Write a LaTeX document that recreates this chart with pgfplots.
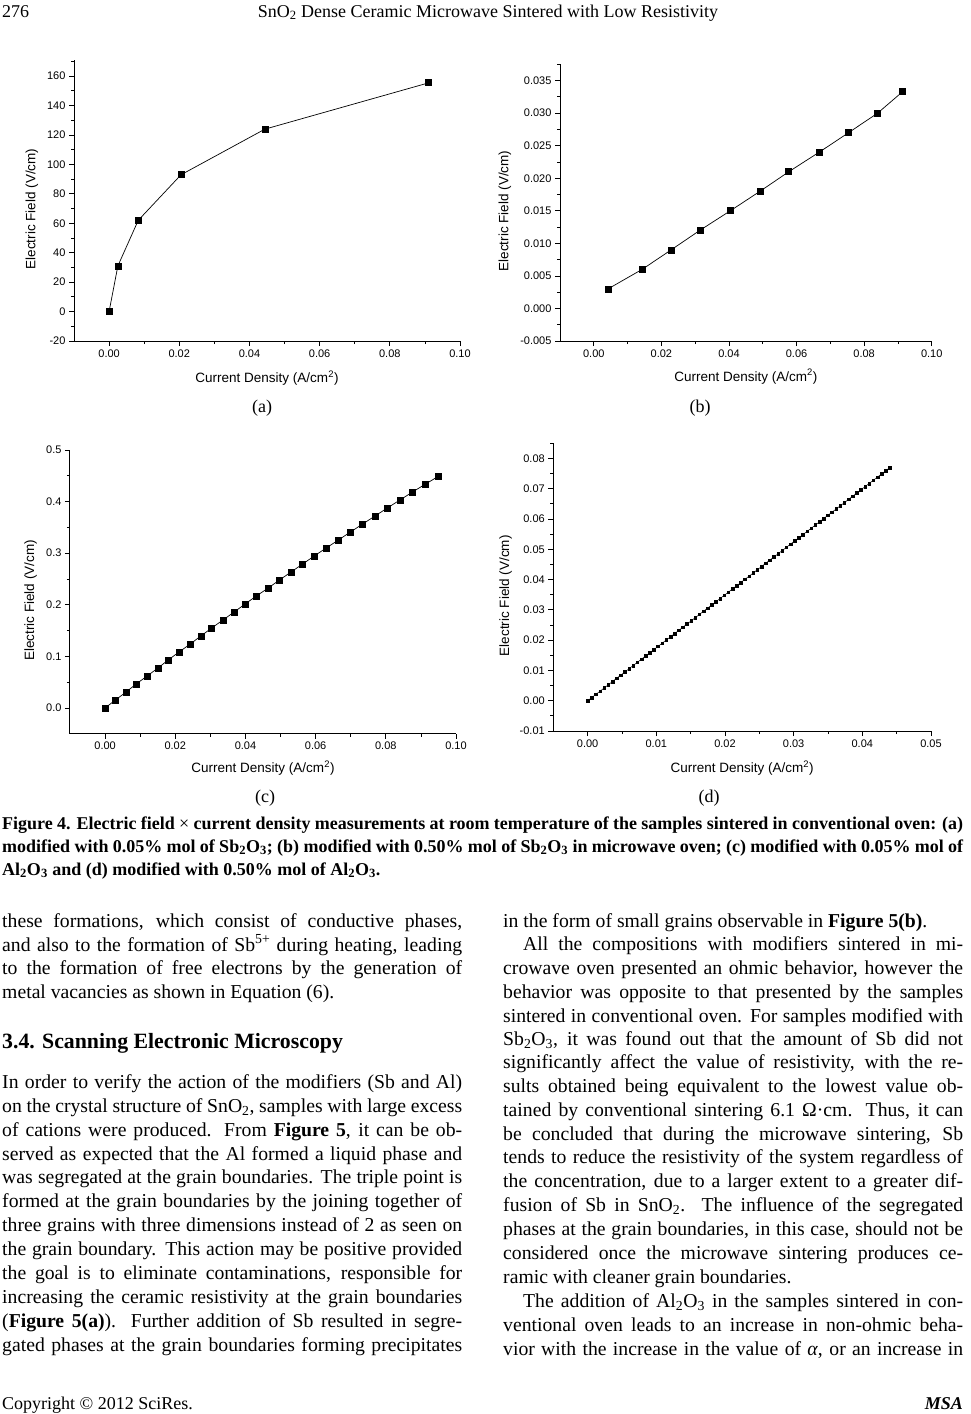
\documentclass[border=0pt]{standalone}
\usepackage{fontspec}
\setmainfont{Liberation Serif}
\newfontfamily\arial{Liberation Sans}
\usepackage{pgfplots}
\pgfplotsset{compat=1.18}
\pgfplotsset{pg/.style={
  scale only axis, anchor=south west,
  axis lines=left, axis line style={line width=1pt,-},
  tick style={black, line width=0.8pt}, tick align=outside,
  major tick length=5pt, minor tick length=3pt,
  scaled x ticks=false, scaled y ticks=false,
  ticklabel style={font=\arial\fontsize{11}{13}\selectfont},
  label style={font=\arial\fontsize{13.5}{16}\selectfont},
  /pgf/number format/assume math mode=true,
  xlabel={Current Density (A/cm\textsuperscript{2})},
  ylabel={Electric Field (V/cm)},
  xticklabel style={/pgf/number format/.cd, fixed, fixed zerofill, precision=2},
}}
\tikzset{body/.style={anchor=base west, inner sep=0pt, font=\fontsize{19.7}{23.8}\selectfont},
 capt/.style={anchor=base west, inner sep=0pt, font=\bfseries\fontsize{18}{23}\selectfont},
 ser/.style={black, line width=0.7pt, mark=square*, mark size=3pt, mark options={solid, fill=black}}}
\newcommand{\JL}[3]{\node[body] at (#1pt,-#2pt) {\makebox[460pt][s]{#3}};}
\newcommand{\JI}[3]{\node[body] at (#1pt,-#2pt) {\makebox[440pt][s]{#3}};}
\newcommand{\NL}[3]{\node[body] at (#1pt,-#2pt) {#3};}
\begin{document}
\begin{tikzpicture}
\path[use as bounding box] (0pt,0pt) rectangle (970pt,-1414pt);
% header
\node[anchor=base west, inner sep=0pt, font=\fontsize{18}{22}\selectfont] at (2pt,-17pt) {276};
\node[anchor=base, inner sep=0pt, font=\fontsize{18}{22}\selectfont] at (488pt,-17pt) {SnO\textsubscript{2} Dense Ceramic Microwave Sintered with Low Resistivity};

% (a)
\begin{axis}[pg, at={(74pt,-341pt)}, width=386pt, height=281pt,
  xmin=-0.01, xmax=0.1, ymin=-20, ymax=171,
  xtick={0,0.02,0.04,0.06,0.08,0.1}, minor xtick={0.01,0.03,0.05,0.07,0.09},
  ytick={-20,0,20,40,60,80,100,120,140,160}, minor ytick={-10,10,30,50,70,90,110,130,150,170},
  xlabel style={at={(axis description cs:0.5,-0.132)}, anchor=center},
  ylabel style={at={(axis description cs:-0.109,0.47)}, anchor=center}]
\addplot[ser] coordinates {(0,0) (0.0025,31) (0.0083,62) (0.0205,93) (0.0444,124) (0.0911,155.5)};
\end{axis}

% (b)
\begin{axis}[pg, at={(560pt,-341pt)}, width=371.7pt, height=276.7pt,
  xmin=-0.01, xmax=0.1, ymin=-0.005, ymax=0.0375,
  xtick={0,0.02,0.04,0.06,0.08,0.1}, minor xtick={0.01,0.03,0.05,0.07,0.09},
  ytick={-0.005,0,0.005,0.01,0.015,0.02,0.025,0.03,0.035},
  minor ytick={-0.0025,0.0025,0.0075,0.0125,0.0175,0.0225,0.0275,0.0325,0.0375},
  yticklabel style={/pgf/number format/.cd, fixed, fixed zerofill, precision=3},
  xlabel style={at={(axis description cs:0.5,-0.129)}, anchor=center},
  ylabel style={at={(axis description cs:-0.148,0.47)}, anchor=center}]
\addplot[ser] coordinates {(0.0042,0.003) (0.0143,0.006) (0.0229,0.009) (0.0314,0.012) (0.0404,0.015) (0.0492,0.018) (0.0577,0.021) (0.0667,0.024) (0.0754,0.027) (0.0840,0.030) (0.0914,0.0333)};
\end{axis}
\node[anchor=base, inner sep=0pt, font=\fontsize{18}{22}\selectfont] at (262pt,-412pt) {(a)};
\node[anchor=base, inner sep=0pt, font=\fontsize{18}{22}\selectfont] at (700pt,-412pt) {(b)};

% (c)
\begin{axis}[pg, at={(70pt,-733.7pt)}, width=386pt, height=283.7pt,
  xmin=-0.01, xmax=0.1, ymin=-0.05, ymax=0.5,
  xtick={0,0.02,0.04,0.06,0.08,0.1}, minor xtick={0.01,0.03,0.05,0.07,0.09},
  ytick={0,0.1,0.2,0.3,0.4,0.5}, minor ytick={0.05,0.15,0.25,0.35,0.45},
  yticklabel style={/pgf/number format/.cd, fixed, fixed zerofill, precision=1},
  xlabel style={at={(axis description cs:0.5,-0.122)}, anchor=center},
  ylabel style={at={(axis description cs:-0.102,0.47)}, anchor=center}]
\addplot[ser] coordinates {(0,0) (0.0030,0.0155) (0.0060,0.031) (0.0089,0.0465) (0.0120,0.062) (0.0151,0.0775) (0.0180,0.093) (0.0211,0.1085) (0.0243,0.124) (0.0273,0.1395) (0.0304,0.155) (0.0336,0.1705) (0.0368,0.186) (0.0399,0.2015) (0.0431,0.217) (0.0465,0.2325) (0.0497,0.248) (0.0530,0.2635) (0.0563,0.279) (0.0596,0.2945) (0.0630,0.31) (0.0665,0.3255) (0.0699,0.341) (0.0734,0.3565) (0.0769,0.372) (0.0804,0.3875) (0.0840,0.403) (0.0876,0.4185) (0.0913,0.434) (0.0951,0.4495)};
\end{axis}

% (d)
\begin{axis}[pg, at={(553.3pt,-731pt)}, width=377.7pt, height=287.7pt,
  xmin=-0.005, xmax=0.05, ymin=-0.01, ymax=0.085,
  xtick={0,0.01,0.02,0.03,0.04,0.05}, minor xtick={0.005,0.015,0.025,0.035,0.045},
  ytick={-0.01,0,0.01,0.02,0.03,0.04,0.05,0.06,0.07,0.08},
  minor ytick={-0.005,0.005,0.015,0.025,0.035,0.045,0.055,0.065,0.075,0.085},
  yticklabel style={/pgf/number format/.cd, fixed, fixed zerofill, precision=2},
  xlabel style={at={(axis description cs:0.5,-0.13)}, anchor=center},
  ylabel style={at={(axis description cs:-0.126,0.47)}, anchor=center}]
\addplot[ser, mark size=1.3pt, line width=0.5pt] coordinates {(0,0) (0.0006,0.00106) (0.00121,0.00211) (0.00181,0.00317) (0.00241,0.00422) (0.00302,0.00528) (0.00362,0.00633) (0.00422,0.00739) (0.00482,0.00844) (0.00543,0.0095) (0.00603,0.01055) (0.00663,0.01161) (0.00724,0.01266) (0.00784,0.01372) (0.00844,0.01477) (0.00905,0.01583) (0.00965,0.01688) (0.01025,0.01794) (0.01085,0.01899) (0.01146,0.02005) (0.01206,0.0211) (0.01266,0.02216) (0.01327,0.02321) (0.01387,0.02427) (0.01447,0.02532) (0.01508,0.02638) (0.01568,0.02743) (0.01628,0.02849) (0.01688,0.02954) (0.01749,0.0306) (0.01809,0.03165) (0.01869,0.03271) (0.0193,0.03376) (0.0199,0.03482) (0.0205,0.03587) (0.02111,0.03693) (0.02171,0.03798) (0.02231,0.03904) (0.02291,0.04009) (0.02352,0.04115) (0.02412,0.0422) (0.02472,0.04326) (0.02533,0.04431) (0.02593,0.04537) (0.02653,0.04642) (0.02714,0.04748) (0.02774,0.04853) (0.02834,0.04959) (0.02894,0.05064) (0.02955,0.0517) (0.03015,0.05275) (0.03075,0.05381) (0.03136,0.05486) (0.03196,0.05592) (0.03256,0.05697) (0.03317,0.05803) (0.03377,0.05908) (0.03437,0.06014) (0.03497,0.06119) (0.03558,0.06225) (0.03618,0.0633) (0.03678,0.06436) (0.03739,0.06541) (0.03799,0.06647) (0.03859,0.06752) (0.0392,0.06858) (0.0398,0.06963) (0.0404,0.07069) (0.041,0.07174) (0.04161,0.0728) (0.04221,0.07385) (0.04281,0.07491) (0.04342,0.07596) (0.04402,0.07702)};
\end{axis}
\node[anchor=base, inner sep=0pt, font=\fontsize{18}{22}\selectfont] at (265pt,-802pt) {(c)};
\node[anchor=base, inner sep=0pt, font=\fontsize{18}{22}\selectfont] at (709pt,-802pt) {(d)};

% caption
\node[capt] at (2pt,-829pt) {\makebox[961pt][s]{Figure 4. Electric field {\mdseries ×} current density measurements at room temperature of the samples sintered in conventional oven: (a)}};
\node[capt] at (2pt,-852pt) {\makebox[961pt][s]{modified with 0.05\% mol of Sb\textsubscript{2}O\textsubscript{3}; (b) modified with 0.50\% mol of Sb\textsubscript{2}O\textsubscript{3} in microwave oven; (c) modified with 0.05\% mol of}};
\node[capt] at (2pt,-875pt) {Al\textsubscript{2}O\textsubscript{3} and (d) modified with 0.50\% mol of Al\textsubscript{2}O\textsubscript{3}.};

% left column
\JL{2}{927}{these formations, which consist of conductive phases,}
\JL{2}{951}{and also to the formation of Sb\textsuperscript{5+} during heating, leading}
\JL{2}{974}{to the formation of free electrons by the generation of}
\NL{2}{998}{metal vacancies as shown in Equation (6).}
\node[anchor=base west, inner sep=0pt, font=\bfseries\fontsize{21.8}{26}\selectfont] at (2pt,-1048pt) {3.4. Scanning Electronic Microscopy};
\JL{2}{1088}{In order to verify the action of the modifiers (Sb and Al)}
\JL{2}{1112}{on the crystal structure of SnO\textsubscript{2}, samples with large excess}
\JL{2}{1136}{of cations were produced. From \textbf{Figure 5}, it can be ob-}
\JL{2}{1160}{served as expected that the Al formed a liquid phase and}
\JL{2}{1183}{was segregated at the grain boundaries. The triple point is}
\JL{2}{1207}{formed at the grain boundaries by the joining together of}
\JL{2}{1231}{three grains with three dimensions instead of 2 as seen on}
\JL{2}{1255}{the grain boundary. This action may be positive provided}
\JL{2}{1279}{the goal is to eliminate contaminations, responsible for}
\JL{2}{1303}{increasing the ceramic resistivity at the grain boundaries}
\JL{2}{1327}{(\textbf{Figure 5(a)}). Further addition of Sb resulted in segre-}
\JL{2}{1351}{gated phases at the grain boundaries forming precipitates}

% right column
\NL{503}{927}{in the form of small grains observable in \textbf{Figure 5(b)}.}
\JI{523}{950}{All the compositions with modifiers sintered in mi-}
\JL{503}{974}{crowave oven presented an ohmic behavior, however the}
\JL{503}{998}{behavior was opposite to that presented by the samples}
\JL{503}{1022}{sintered in conventional oven. For samples modified with}
\JL{503}{1045}{Sb\textsubscript{2}O\textsubscript{3}, it was found out that the amount of Sb did not}
\JL{503}{1068}{significantly affect the value of resistivity, with the re-}
\JL{503}{1092}{sults obtained being equivalent to the lowest value ob-}
\JL{503}{1116}{tained by conventional sintering 6.1 Ω·cm. Thus, it can}
\JL{503}{1140}{be concluded that during the microwave sintering, Sb}
\JL{503}{1163}{tends to reduce the resistivity of the system regardless of}
\JL{503}{1187}{the concentration, due to a larger extent to a greater dif-}
\JL{503}{1211}{fusion of Sb in SnO\textsubscript{2}. The influence of the segregated}
\JL{503}{1235}{phases at the grain boundaries, in this case, should not be}
\JL{503}{1259}{considered once the microwave sintering produces ce-}
\NL{503}{1283}{ramic with cleaner grain boundaries.}
\JI{523}{1307}{The addition of Al\textsubscript{2}O\textsubscript{3} in the samples sintered in con-}
\JL{503}{1331}{ventional oven leads to an increase in non-ohmic beha-}
\JL{503}{1355}{vior with the increase in the value of \textit{α}, or an increase in}

% footer
\node[anchor=base west, inner sep=0pt, font=\fontsize{18}{22}\selectfont] at (2pt,-1409pt) {Copyright © 2012 SciRes.};
\node[anchor=base east, inner sep=0pt, font=\bfseries\itshape\fontsize{18}{22}\selectfont] at (963pt,-1409pt) {MSA};
\end{tikzpicture}
\end{document}
